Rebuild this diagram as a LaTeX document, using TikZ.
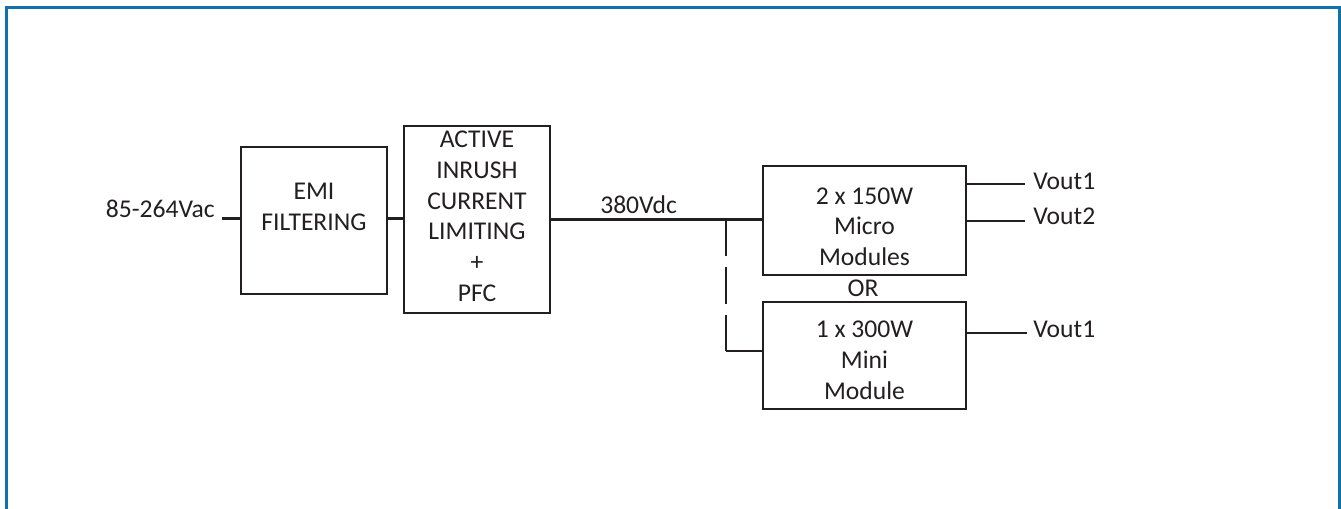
\documentclass[tikz,border=0pt]{standalone}
\usepackage{fontspec}
\setmainfont{Carlito}
\definecolor{framec}{RGB}{16,114,168}
\definecolor{ink}{RGB}{35,31,32}
\begin{document}
\begin{tikzpicture}[x=0.75pt,y=-0.75pt,
  every node/.style={text=ink, font=\fontsize{19.2}{23}\selectfont},
  blk/.style={draw=ink, line width=0.85pt, align=center, inner sep=0pt},
  wire/.style={draw=ink, line width=1.8pt},
  lbl/.style={inner sep=0pt}]
\useasboundingbox (0,0) rectangle (1341,509);
\draw[framec, line width=2.3pt] (6.2,509) -- (6.2,7.3) -- (1339.8,7.3) -- (1339.8,509);

% blocks
\node[blk, minimum width=109.5pt, minimum height=110.25pt] (emi) at (314,220.5)
  {EMI\\FILTERING\rule[-21pt]{0pt}{21pt}};
\node[blk, minimum width=109.5pt, minimum height=140.25pt] (act) at (477,219.5)
  {ACTIVE\\INRUSH\\CURRENT\\LIMITING\\+\\PFC\rule[-5pt]{0pt}{5pt}};
\node[blk, minimum width=152.25pt, minimum height=81.75pt] (micro) at (864.5,220.5)
  {\rule{0pt}{21.75pt}2 x 150W\\Micro\\Modules};
\node[blk, minimum width=152.25pt, minimum height=80.25pt] (mini) at (864.5,355.5)
  {\rule{0pt}{19.5pt}1 x 300W\\Mini\\Module};

% labels
\node[lbl, anchor=base east] (vin) at (215,218) {85-264Vac};
\node[lbl, anchor=base west] (vdc) at (600,214) {380Vdc};
\node[lbl, anchor=base] (or) at (863,297) {OR};
\node[lbl, anchor=base west] (v1) at (1033,190) {Vout1};
\node[lbl, anchor=base west] (v2) at (1033,225) {Vout2};
\node[lbl, anchor=base west] (v3) at (1033,338) {Vout1};

% coordinates
\coordinate (in) at (222,218.5);
\coordinate (j) at (726,219.5);
\coordinate (c) at (726,351);
\coordinate (o1) at (1025,184);
\coordinate (o2) at (1025,221);
\coordinate (o3) at (1027,333);

% connectors
\draw[wire] (in) -- (in -| emi.west);
\draw[wire] (emi.east |- in) -- (act.west |- in);
\draw[wire] (act.east |- j) -- (j) -- (j -| micro.west);
\draw[wire, dash pattern=on 27.75pt off 8pt] (j) -- (c);
\draw[wire] (c) -- (c -| mini.west);
\draw[wire] (micro.east |- o1) -- (o1);
\draw[wire] (micro.east |- o2) -- (o2);
\draw[wire] (mini.east |- o3) -- (o3);
\end{tikzpicture}
\end{document}
